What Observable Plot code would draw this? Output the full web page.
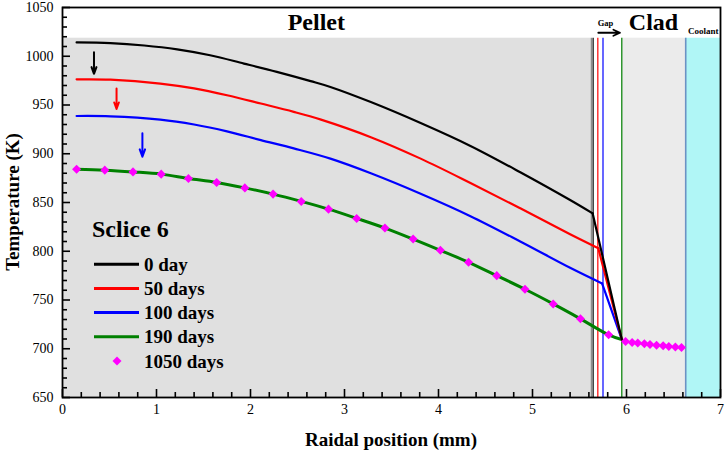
<!DOCTYPE html>
<html><head><meta charset="utf-8">
<script src="https://cdn.jsdelivr.net/npm/d3@7"></script>
<script src="https://cdn.jsdelivr.net/npm/@observablehq/plot@0.6"></script>
<style>
body{margin:0;background:#fff;}
#wrap{position:relative;width:726px;height:454px;}
</style></head><body><div id="wrap"></div>
<script>
// ---- data ----
const day0R   = [0.15,0.51,0.87,1.22,1.57,1.93,2.28,2.64,2.85,3.28,3.81,4.34,4.87,5.40,5.64];
const day0T   = [1014.2,1013.5,1011,1007,1001,992.5,984,974.5,968.5,953,931.5,908,881,852.5,838.8];
const day50R  = [0.15,0.51,1.04,1.40,1.75,2.11,2.46,2.75,3.28,3.81,4.34,4.87,5.40,5.70];
const day50T  = [976.3,976.0,972,967,960,951.5,943,935,917,895,870,844,817.5,803];
const day100R = [0.15,0.51,1.04,1.40,1.75,2.11,2.46,2.85,3.28,3.81,4.34,4.87,5.40,5.74];
const day100T = [938.7,938.4,935,930,923,914,905.5,895,880,859,836,810,783,767];
const day190R = [0.15,0.45,0.75,1.05,1.34,1.64,1.94,2.24,2.54,2.83,3.13,3.43,3.73,4.02,4.32,4.62,4.92,5.22,5.51,5.81,5.95];
const day190T = [884.2,883.2,881.4,879.1,874.7,870.6,865.0,858.6,851.1,843.2,833.7,823.8,812.5,801.0,788.7,775.0,761.0,746.0,730.7,714.3,709.5];
const day1050R = [0.15,0.45,0.75,1.05,1.34,1.64,1.94,2.24,2.54,2.83,3.13,3.43,3.73,4.02,4.32,4.62,4.92,5.22,5.51,5.81,
                  5.99,6.06,6.12,6.19,6.25,6.32,6.39,6.45,6.52,6.585];
const day1050T = [884.2,883.2,881.4,879.1,874.7,870.6,865.0,858.6,851.1,843.2,833.7,823.8,812.5,801.0,788.7,775.0,761.0,746.0,730.7,714.3,
                  707.4,706.5,705.8,705.1,704.4,703.7,703.0,702.4,701.8,701.3];
const cladInnerR = 5.95, cladInnerT = 709.5;   // where the gap segments meet

const seriesNames = ["0 day","50 days","100 days","190 days","1050 days"];

// zones (mm) and top of shaded area (K)
const zoneNames = ["pellet","clad","coolant"];
const zoneStart = [0, 5.95, 6.63];
const zoneEnd   = [5.62, 6.63, 7];
const zoneTop = 1018.5, zoneBottom = 650;
const boundaryNames = ["pelletEdge","0 day","50 days","100 days","190 days","coolant"];
const boundaryR = [5.625, 5.645, 5.695, 5.75, 5.95, 6.63];

// down arrows marking the pellet curves
const arrowSeries = ["0 day","50 days","100 days"];
const arrowR = [0.335, 0.575, 0.85];
const arrowFrom = [1004, 967, 921];
const arrowTo = [982, 946, 897];

// zone labels
const zoneLabels = ["Pellet","Clad","Gap","Coolant"];
const zoneLabelR = [2.70, 6.287, 5.777, 6.816];
const zoneLabelT = [1027.2, 1026.5, 1030.9, 1022.4];
const gapArrowR = [5.70, 5.93], gapArrowT = 1024.1;

const xTicks = [0,1,2,3,4,5,6,7];
const yTicks = [650,700,750,800,850,900,950,1000,1050];

// ---- layout / styles ----
const W = 726, H = 454, ML = 62, MR = 6, MT = 7, MB = 57;
const PW = W - ML - MR, PH = H - MT - MB;
const xDomain = [0, 7], yDomain = [650, 1050];
const kx = (xDomain[1]-xDomain[0]) / PW, ky = (yDomain[1]-yDomain[0]) / PH; // data units per pixel
const colors = {"0 day":"#000000","50 days":"#ff0000","100 days":"#0000ff","190 days":"#008000","1050 days":"#ff00ff",
  pelletEdge:"#7a7a7a", coolant:"#6b92c4"};
const zoneFill = {pellet:"#e0e0e0", clad:"#ebebeb", coolant:"#b0f6f6"};
const labelSize = {Pellet:24, Clad:24, Gap:8.5, Coolant:9};

const zip = (R,T,s) => R.map((r,i)=>({r, t:T[i], s}));
const lines = [
  {s:"190 days", R:day190R, T:day190T, w:3, kink:false},
  {s:"100 days", R:day100R, T:day100T, w:2.2, kink:true},
  {s:"50 days", R:day50R, T:day50T, w:2.2, kink:true},
  {s:"0 day", R:day0R, T:day0T, w:2.2, kink:true}
];
const zones = zoneNames.map((n,i)=>({n, x1:zoneStart[i], x2:zoneEnd[i]}));
const bounds = boundaryNames.map((n,i)=>({n, r:boundaryR[i]}));
const arrows = arrowSeries.map((s,i)=>({s, r:arrowR[i], a:arrowFrom[i], b:arrowTo[i]}));
const labels = zoneLabels.map((n,i)=>({n, r:zoneLabelR[i], t:zoneLabelT[i]}));
const xMinor = d3.range(0, 7.001, 0.2).filter(v => Math.abs(v - Math.round(v)) > 1e-6);
const yMinor = d3.range(650, 1051, 10).filter(v => v % 50 !== 0);

const marks = [
  Plot.rect(zones, {x1:"x1", x2:"x2", y1:zoneBottom, y2:zoneTop, fill:d=>zoneFill[d.n]}),
  Plot.ruleX(bounds, {x:"r", y1:zoneBottom, y2:zoneTop, stroke:d=>colors[d.n], strokeWidth:d=>d.n==="coolant"?1.6:1.2})
];
for (const L of lines) {
  marks.push(Plot.line(zip(L.R, L.T, L.s), {x:"r", y:"t", stroke:colors[L.s], strokeWidth:L.w, curve:"catmull-rom"}));
  if (L.kink) marks.push(Plot.line([{r:L.R[L.R.length-1], t:L.T[L.T.length-1]},{r:cladInnerR, t:cladInnerT}],
      {x:"r", y:"t", stroke:colors[L.s], strokeWidth:L.w}));
}
marks.push(
  Plot.dot(zip(day1050R, day1050T, "1050 days"), {x:"r", y:"t", symbol:"square", r:3.6, rotate:45, fill:colors["1050 days"], stroke:"none"}),
  Plot.arrow(arrows, {x1:"r", x2:"r", y1:"a", y2:"b", stroke:d=>colors[d.s], strokeWidth:2, headLength:9, headAngle:40}),
  Plot.arrow([{a:gapArrowR[0], b:gapArrowR[1]}], {x1:"a", x2:"b", y1:gapArrowT, y2:gapArrowT, stroke:"black", strokeWidth:1.8, headLength:7, headAngle:50}),
  ...labels.map(d => Plot.text([d], {x:"r", y:"t", text:"n", fontSize:labelSize[d.n], fontWeight:"bold", lineAnchor:"bottom", fill:"black"})),
  // inward ticks (major 8 px, minor 5 px)
  Plot.ruleX(xTicks, {x:d=>d, y1:yDomain[0], y2:yDomain[0] + 8*ky, stroke:"black", strokeWidth:1.6}),
  Plot.ruleX(xMinor, {x:d=>d, y1:yDomain[0], y2:yDomain[0] + 5*ky, stroke:"black", strokeWidth:1.6}),
  Plot.ruleY(yTicks, {y:d=>d, x1:xDomain[0], x2:xDomain[0] + 8*kx, stroke:"black", strokeWidth:1.6}),
  Plot.ruleY(yMinor, {y:d=>d, x1:xDomain[0], x2:xDomain[0] + 5*kx, stroke:"black", strokeWidth:1.6}),
  Plot.frame({stroke:"black", strokeWidth:1.8}),
  Plot.axisX(xTicks, {tickSize:0, tickPadding:7, label:null, fontSize:14, tickFormat:d=>String(d)}),
  Plot.axisY(yTicks, {tickSize:0, tickPadding:9, label:null, fontSize:14, tickFormat:d=>String(d)})
);

const chart = Plot.plot({
  width:W, height:H, marginLeft:ML, marginRight:MR, marginTop:MT, marginBottom:MB,
  x:{domain:xDomain}, y:{domain:yDomain},
  style:{fontFamily:'"Liberation Serif", "Times New Roman", serif', fontSize:"14px", color:"black", background:"white"},
  marks
});
document.getElementById("wrap").appendChild(chart);

// axis titles and legend drawn into the same svg
const svg = d3.select(chart);
const F = '"Liberation Serif", "Times New Roman", serif';
svg.append("text").attr("x", 391).attr("y", 446).attr("text-anchor","middle")
  .attr("font-family",F).attr("font-size",19).attr("font-weight","bold").attr("fill","black").text("Raidal position (mm)");
svg.append("text").attr("transform","translate(19,202) rotate(-90)").attr("text-anchor","middle")
  .attr("font-family",F).attr("font-size",19).attr("font-weight","bold").attr("fill","black").text("Temperature (K)");
const lg = svg.append("g").attr("font-family",F).attr("font-weight","bold").attr("fill","black").attr("text-anchor","start");
lg.append("text").attr("x",92).attr("y",237.3).attr("font-size",24).attr("text-anchor","start").text("Sclice 6");
seriesNames.forEach((s,i) => {
  const base = 270.7 + i*24.2;
  if (s === "1050 days") {
    lg.append("path").attr("d", d3.symbol(d3.symbolSquare, 3.6*3.6*Math.PI)())
      .attr("transform", `translate(117,${base-6.5}) rotate(45)`).attr("fill", colors[s]);
  } else {
    lg.append("line").attr("x1",94).attr("x2",139).attr("y1",base-6.5).attr("y2",base-6.5)
      .attr("stroke",colors[s]).attr("stroke-width",3);
  }
  lg.append("text").attr("x",144).attr("y",base).attr("font-size",19).attr("text-anchor","start").text(s);
});
</script></body></html>
